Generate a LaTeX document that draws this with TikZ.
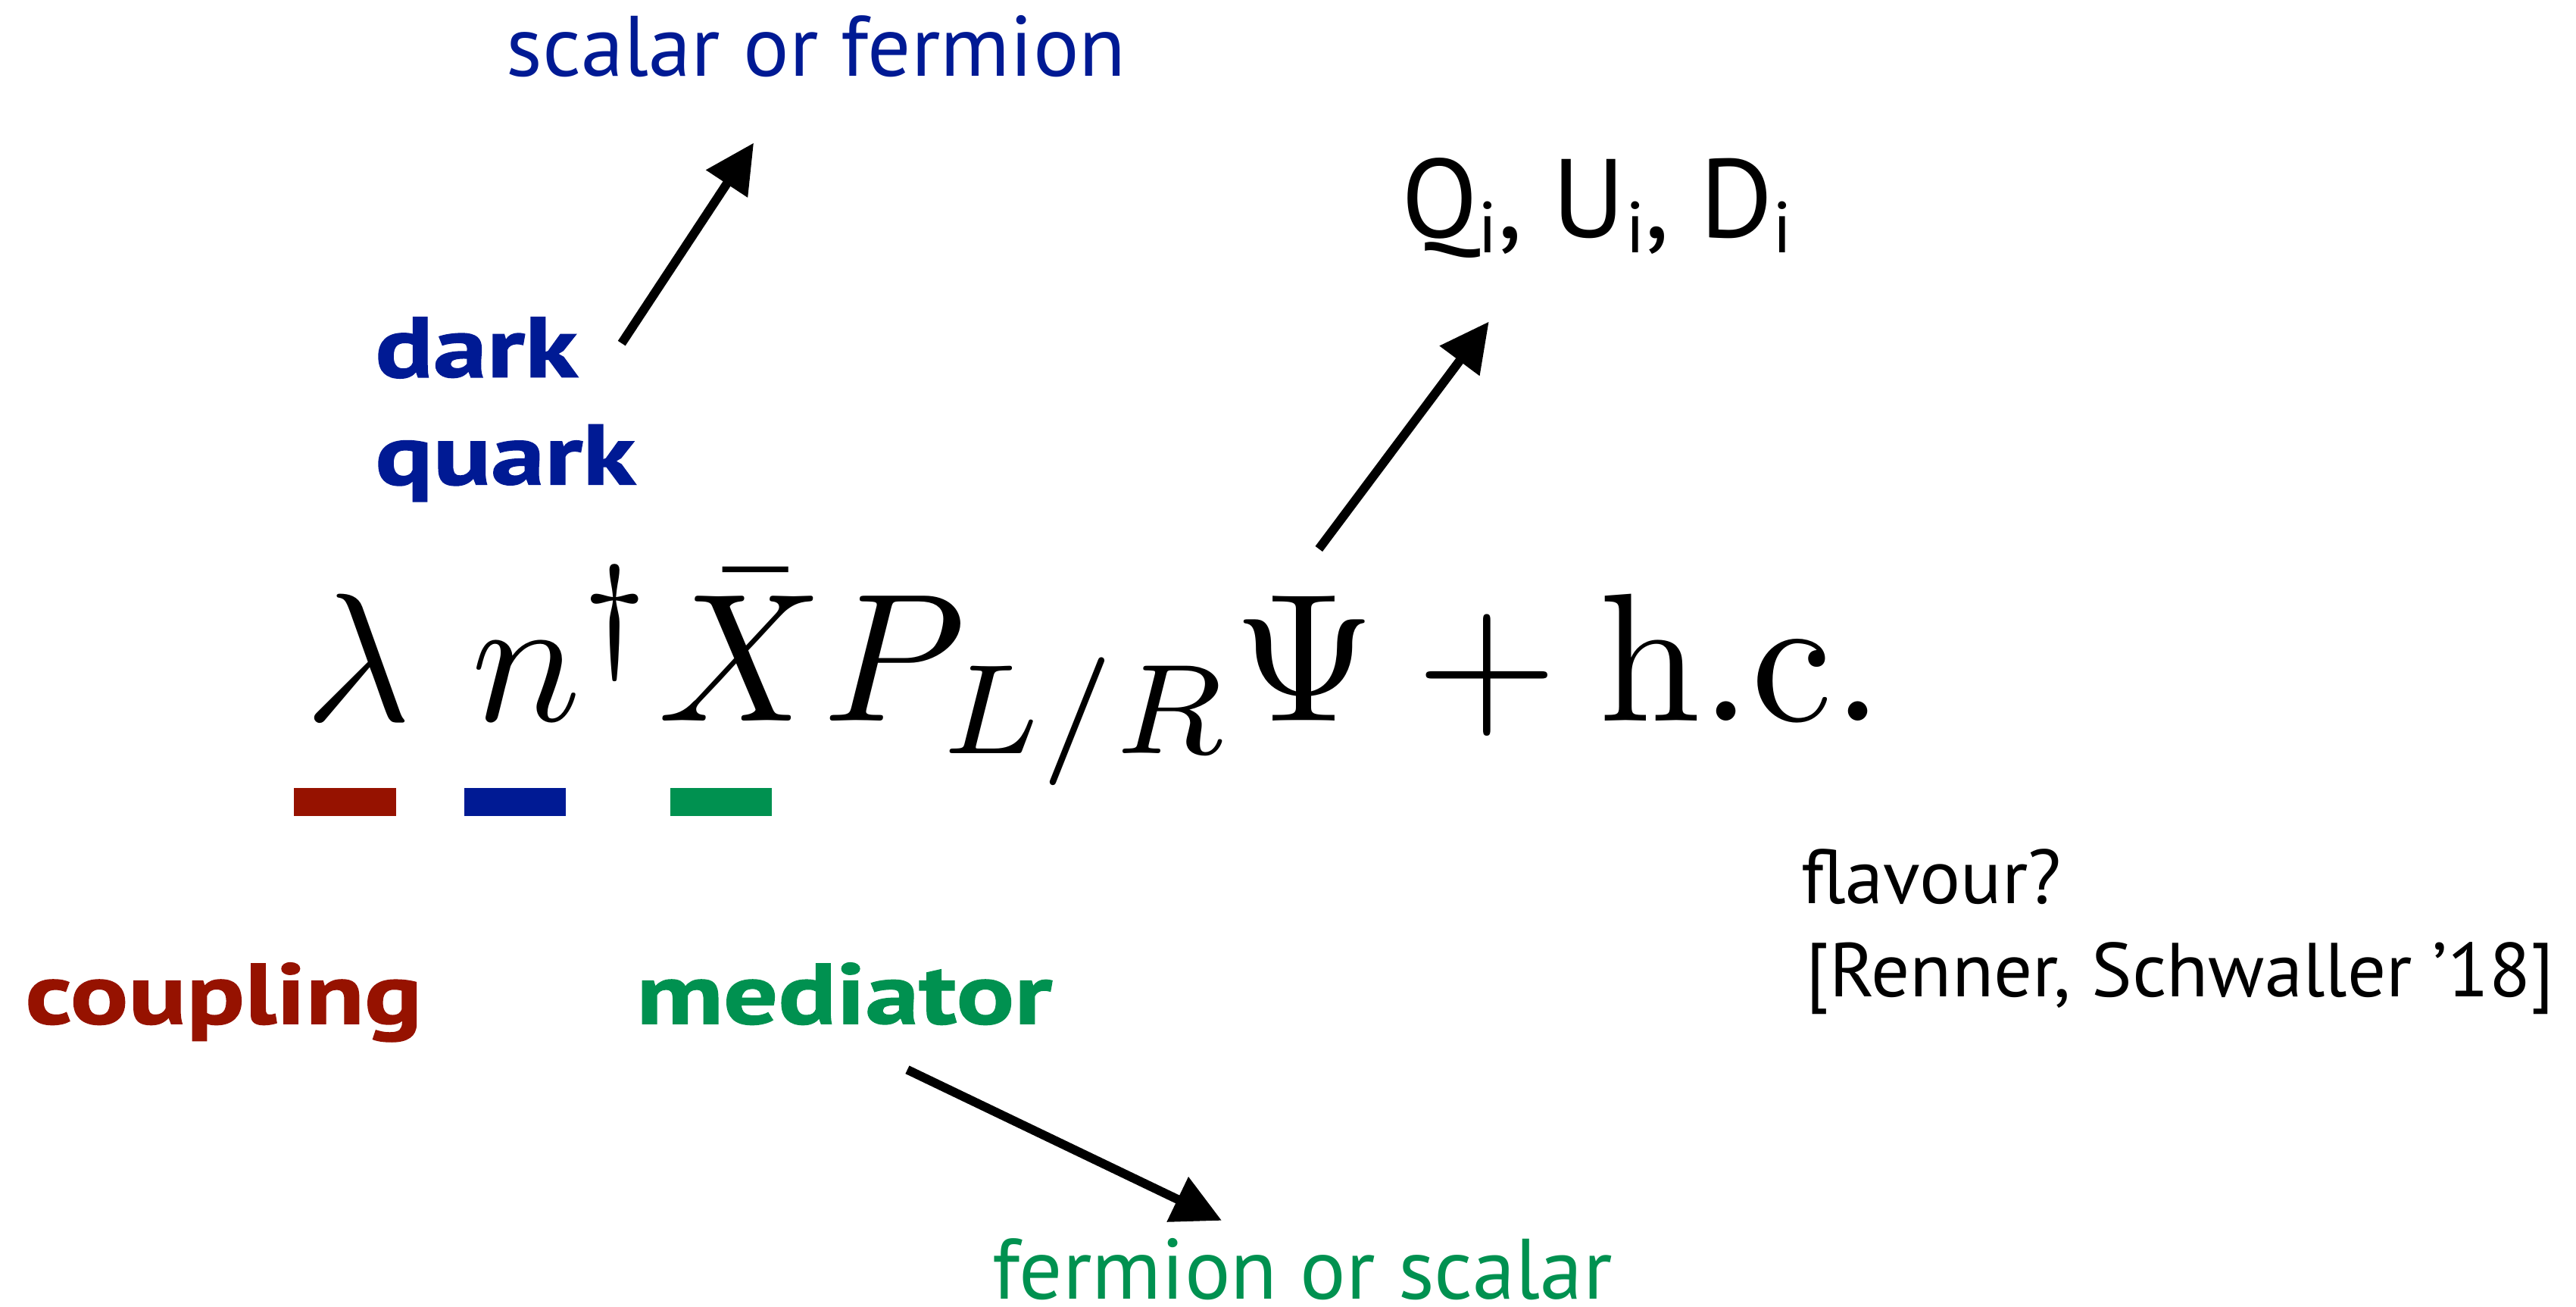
\documentclass[tikz,border=0pt]{standalone}
\usepackage{amsmath}
\usepackage{graphicx}
\usepackage{fontspec}
\newfontfamily\gill{PT Sans}[BoldFeatures={FakeStretch=1.26,FakeBold=1.2}]
\usepackage{xcolor}
\definecolor{darkred}{HTML}{961200}
\definecolor{darkblue}{HTML}{001A94}
\definecolor{darkgreen}{HTML}{009150}
\usepackage{tikz}
\usetikzlibrary{arrows.meta,positioning}

\begin{document}
\begin{tikzpicture}[
  x=0.02cm, y=0.02cm,
  lbl/.style={inner sep=0pt, anchor=base west,
              font=\gill\fontsize{29.7}{36}\selectfont},
  tag/.style={inner sep=0pt, anchor=base west,
              font=\gill\bfseries\fontsize{29.7}{36}\selectfont},
  note/.style={inner sep=0pt, anchor=base west,
               font=\gill\fontsize{26.5}{32}\selectfont},
  fields/.style={inner sep=0pt, anchor=base west,
                 font=\gill\fontsize{38.7}{44}\selectfont},
  lagr/.style={inner sep=0pt, anchor=base west, font=\normalsize},
  bar/.style={rectangle, inner sep=0pt, minimum width=1.24cm,
              minimum height=0.34cm},
  arr/.style={-{Triangle[length=17pt,width=16.5pt]}, line width=3.1pt},
]
\useasboundingbox (0,0) rectangle (1568,795);

% ================= the interaction term
\node[lagr] (lagr) at (185,356.5)
  {\scalebox{6.33}{$\lambda\ n^\dagger \bar X P_{L/R}\Psi + \mathrm{h.c.}$}};

\node[bar, fill=darkred]   (barc) at (210,307)   {};
\node[bar, fill=darkblue]  (barq) at (313.5,307) {};
\node[bar, fill=darkgreen] (barm) at (439,307)   {};

% ================= dark quark
\node[tag, text=darkblue] (dark)  at (228,565.5) {dark};
\node[tag, text=darkblue] (quark) at (228,500.2) {quark};
\node[lbl, text=darkblue] (sof)   at (308,748.7) {scalar or fermion};
\draw[arr] ([shift={(150.4,20.6)}]dark.base west)
        -- ([shift={(150.8,-40.6)}]sof.base west);

% ================= SM quarks
\node[fields] (qud) at (853,650.3)
  {Q{\raisebox{-0.13em}{\fontsize{25}{25}\selectfont i}},
   U{\raisebox{-0.13em}{\fontsize{25}{25}\selectfont i}},
   D{\raisebox{-0.13em}{\fontsize{25}{25}\selectfont i}}};
\draw[arr] ([shift={(617.8,104.5)}]lagr.base west)
        -- ([shift={(53.3,-51)}]qud.base west);

% ================= coupling and mediator
\node[tag, text=darkred]   (coupling) at (15,172.1)  {coupling};
\node[tag, text=darkgreen] (mediator) at (387,172.1) {mediator};
\node[lbl, text=darkgreen] (fos)      at (604,4.6)   {fermion or scalar};
\draw[arr] ([shift={(165.3,-28)}]mediator.base west)
        -- ([shift={(139.7,47.7)}]fos.base west);

% ================= flavour
\node[note] (flav) at (1096,245)   {flavour?};
\node[note] (ref)  at (1099,188.3) {[Renner, Schwaller ’18]};
\end{tikzpicture}
\end{document}
